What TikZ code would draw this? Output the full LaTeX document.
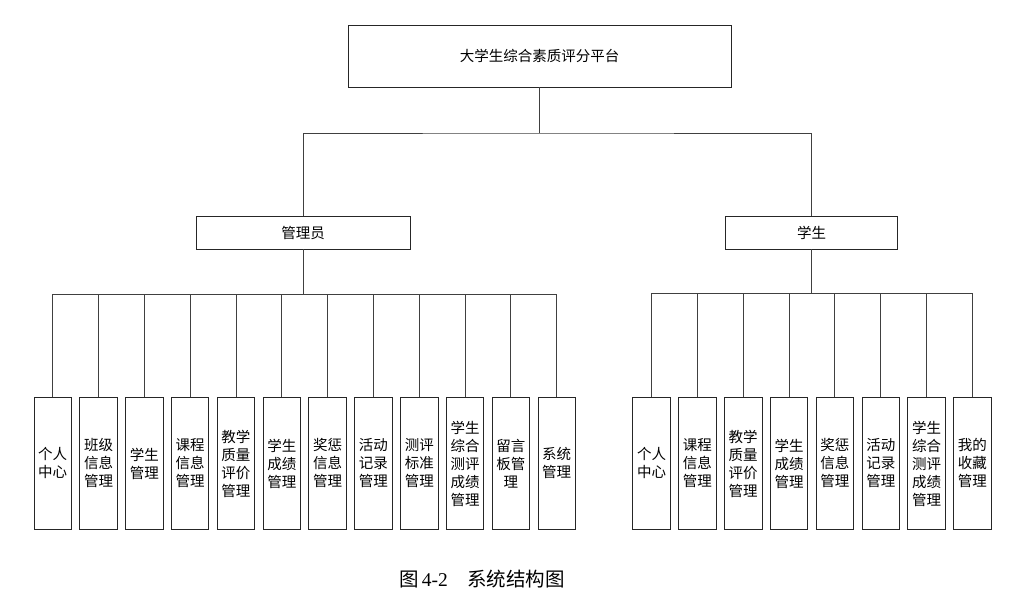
\documentclass[tikz,border=0pt]{standalone}
\usepackage{fontspec}
\newfontfamily\cjk{Noto Sans CJK SC}
\newfontfamily\capserif{Liberation Serif}
\begin{document}
\begin{tikzpicture}[x=1pt,y=-1pt,
  box/.style={draw=black!85, line width=0.9pt, fill=white, inner sep=0pt, font=\cjk\fontsize{14.5}{18}\selectfont},
  leaf/.style={box, minimum width=37.5pt, minimum height=131pt, anchor=north, align=center},
  conn/.style={draw=black!75, line width=0.9pt}]
\useasboundingbox (0,0) rectangle (1015,601);
% top levels
\node[box, minimum width=383pt, minimum height=62pt] (top) at (539.5,56) {大学生综合素质评分平台};
\node[box, minimum width=214pt, minimum height=33pt] (admin) at (303,232.5) {管理员};
\node[box, minimum width=172pt, minimum height=33pt] (stu) at (811.5,232.5) {学生};
\coordinate (jt) at (539.5,133);
\coordinate (busA) at (0,294);
\coordinate (busS) at (0,293);
\draw[conn] (top.south) -- (jt);
\draw[conn] (admin.north) |- (jt) -| (stu.north);
% admin children
\foreach \txt [count=\i] in {{个人\\中心},{班级\\信息\\管理},{学生\\管理},{课程\\信息\\管理},{教学\\质量\\评价\\管理},{学生\\成绩\\管理},{奖惩\\信息\\管理},{活动\\记录\\管理},{测评\\标准\\管理},{学生\\综合\\测评\\成绩\\管理},{留言\\板管\\理},{系统\\管理}}{
  \node[leaf] (a\i) at ({52.7+45.82*(\i-1)},397.5) {\txt};
  \draw[conn] (a\i.north) -- (a\i.north |- busA);
}
\draw[conn] (a1.north |- busA) -- (a12.north |- busA);
\draw[conn] (admin.south) -- (admin.south |- busA);
% student children
\foreach \txt [count=\i] in {{个人\\中心},{课程\\信息\\管理},{教学\\质量\\评价\\管理},{学生\\成绩\\管理},{奖惩\\信息\\管理},{活动\\记录\\管理},{学生\\综合\\测评\\成绩\\管理},{我的\\收藏\\管理}}{
  \node[leaf] (s\i) at ({651.5+45.85*(\i-1)},397.5) {\txt};
  \draw[conn] (s\i.north) -- (s\i.north |- busS);
}
\draw[conn] (s1.north |- busS) -- (s8.north |- busS);
\draw[conn] (stu.south) -- (stu.south |- busS);
% caption
\node[anchor=west, inner sep=0pt, font=\cjk\fontsize{19.5}{22}\selectfont] (cap) at (399,579) {图\,{\capserif 4-2}\enspace\enspace 系统结构图};
\end{tikzpicture}
\end{document}
